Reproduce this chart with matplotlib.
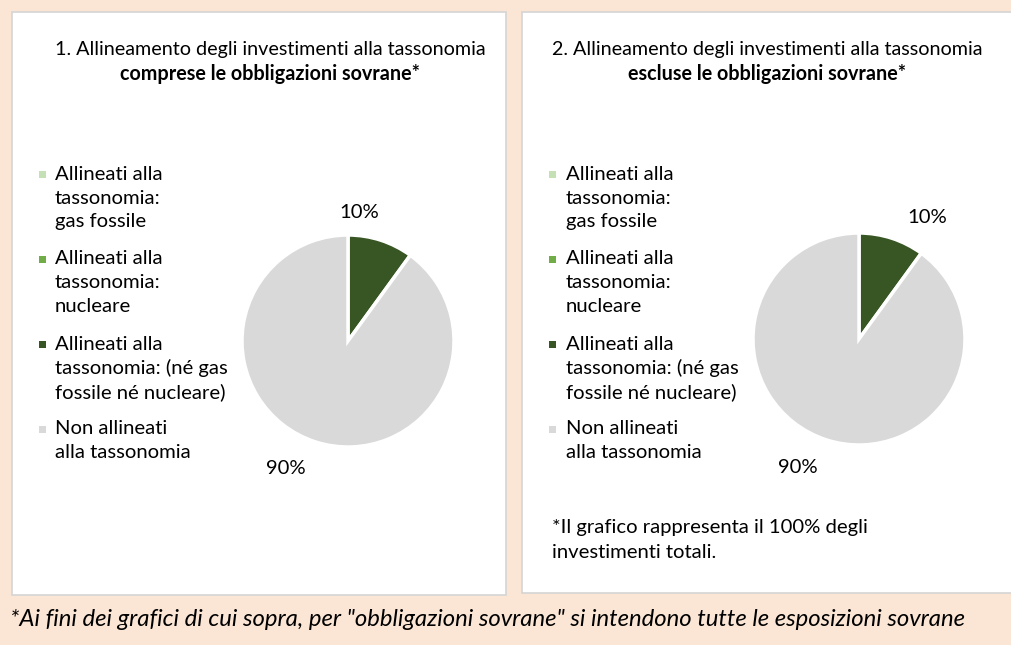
import matplotlib
matplotlib.use("Agg")
import matplotlib.pyplot as plt
from matplotlib.patches import Rectangle

# ---------------- data ----------------
categories = [
    "Allineati alla\ntassonomia:\ngas fossile",
    "Allineati alla\ntassonomia:\nnucleare",
    "Allineati alla\ntassonomia: (né gas\nfossile né nucleare)",
    "Non allineati\nalla tassonomia",
]
colors = ["#C5E0B4", "#70AD47", "#375623", "#D9D9D9"]
values_incl = [0, 0, 10, 90]   # chart 1: including sovereign bonds
values_excl = [0, 0, 10, 90]   # chart 2: excluding sovereign bonds
titles_line1 = ["1. Allineamento degli investimenti alla tassonomia",
                "2. Allineamento degli investimenti alla tassonomia"]
titles_line2 = ["comprese le obbligazioni sovrane*",
                "escluse le obbligazioni sovrane*"]
note_text = "*Il grafico rappresenta il 100% degli\ninvestimenti totali."
footer_text = ('*Ai fini dei grafici di cui sopra, per "obbligazioni sovrane" '
               'si intendono tutte le esposizioni sovrane')

# ---------------- layout ----------------
W, H = 1011, 645
FONT = "Lato"
FS = 14.6
FS_TITLE = 14.2
plt.rcParams["font.family"] = [FONT, "DejaVu Sans"]

fig = plt.figure(figsize=(W / 100, H / 100), dpi=100)
fig.patch.set_facecolor("#FBE6D6")
bg = fig.add_axes([0, 0, 1, 1])
bg.set_xlim(0, W)
bg.set_ylim(H, 0)
bg.axis("off")

# white panels
panels = [(12, 12, 494, 583), (522, 12, 520, 581)]
for (x, y, w, h) in panels:
    bg.add_patch(Rectangle((x, y), w, h, facecolor="white",
                           edgecolor="#D4D4D4", lw=1.2, zorder=1))

# panel descriptors
panel_info = [
    dict(title_x=270, legend_mx=42, legend_tx=55, pie_c=(348, 341),
         values=values_incl,
         lbl_pos={2: (0.11, 1.21), 3: (-0.59, -1.20)}),
    dict(title_x=767, legend_mx=552, legend_tx=566, pie_c=(859, 339),
         values=values_excl,
         lbl_pos={2: (0.64, 1.15), 3: (-0.58, -1.21)}),
]
R = 106
line_h = 24
entry_gap = 37

for i, info in enumerate(panel_info):
    # titles
    bg.text(info["title_x"], 50, titles_line1[i], ha="center", va="center",
            fontsize=FS_TITLE, color="#000000", zorder=3)
    bg.text(info["title_x"], 74, titles_line2[i], ha="center", va="center",
            fontsize=FS_TITLE, fontweight="bold", color="#000000", zorder=3)

    # legend
    y = 174
    for cat, col in zip(categories, colors):
        lines = cat.split("\n")
        bg.add_patch(Rectangle((info["legend_mx"] - 3.5, y - 3.5), 7, 7,
                               facecolor=col, edgecolor="none", zorder=3))
        for k, ln in enumerate(lines):
            bg.text(info["legend_tx"], y + k * line_h, ln, ha="left",
                    va="center", fontsize=FS, color="#000000", zorder=3)
        y += (len(lines) - 1) * line_h + entry_gap

    # pie
    cx, cy = info["pie_c"]
    ax = fig.add_axes([(cx - R) / W, 1 - (cy + R) / H, 2 * R / W, 2 * R / H])
    ax.pie(info["values"], colors=colors, startangle=90, counterclock=False,
           radius=1, wedgeprops=dict(edgecolor="white", linewidth=2.5))
    ax.set_xlim(-1, 1)
    ax.set_ylim(-1, 1)
    ax.set_aspect("equal")
    ax.axis("off")
    for idx, (lx, ly) in info["lbl_pos"].items():
        ax.text(lx, ly, f"{info['values'][idx]}%", ha="center", va="center",
                fontsize=FS, color="#000000", clip_on=False)

# note in right panel
for k, ln in enumerate(note_text.split("\n")):
    bg.text(552, 527 + k * 25, ln, ha="left", va="center", fontsize=FS,
            color="#000000", zorder=3)

# footer
bg.text(10, 619, footer_text, ha="left", va="center", fontsize=17.2,
        style="italic", color="#000000", zorder=3)

fig.savefig("out.png", dpi=100, facecolor=fig.get_facecolor())
